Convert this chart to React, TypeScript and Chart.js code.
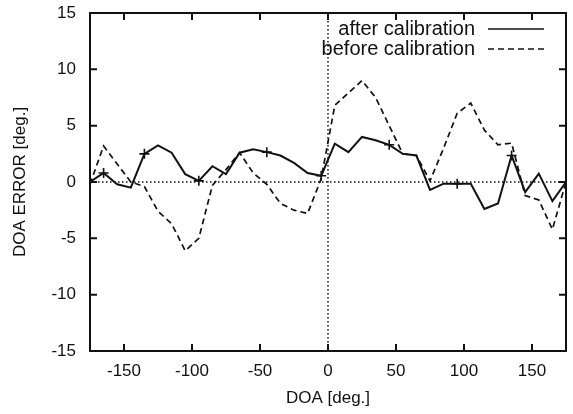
import React, { useEffect, useRef } from "react";
import { Chart, registerables } from "chart.js";

Chart.register(...registerables);

// DOA angles (degrees), 10-degree steps
const doa = [
  -175, -165, -155, -145, -135, -125, -115, -105, -95, -85, -75, -65, -55, -45, -35, -25, -15, -5,
  5, 15, 25, 35, 45, 55, 65, 75, 85, 95, 105, 115, 125, 135, 145, 155, 165, 175,
];

// DOA error after calibration (deg.)
const afterCal = [
  0.0, 0.8, -0.2, -0.5, 2.5, 3.25, 2.6, 0.7, 0.1, 1.4, 0.7, 2.6, 2.9, 2.65, 2.35, 1.7, 0.8, 0.55,
  3.4, 2.65, 4.0, 3.7, 3.3, 2.5, 2.35, -0.7, -0.15, -0.15, -0.15, -2.4, -1.9, 2.35, -0.9, 0.75, -1.7, 0.0,
];

// DOA error before calibration (deg.)
const beforeCal = [
  -0.2, 3.2, 1.6, 0.0, -0.4, -2.6, -3.7, -6.1, -5.0, -0.3, 1.1, 2.6, 0.8, -0.2, -1.9, -2.5, -2.8, 0.3,
  6.8, 7.9, 9.0, 7.5, 5.0, 2.5, 2.35, 0.1, 3.0, 6.1, 7.0, 4.6, 3.3, 3.45, -1.2, -1.6, -4.2, 0.0,
];

// angles where the "after calibration" curve carries a + marker
const markerDoa = [-165, -135, -95, -45, -5, 45, 95, 135];

const xTicks = [-150, -100, -50, 0, 50, 100, 150];
const yTicks = [-15, -10, -5, 0, 5, 10, 15];

const seriesLabels = ["after calibration", "before calibration"];
const xTitle = "DOA [deg.]";
const yTitle = "DOA ERROR [deg.]";

const INK = "#111";
const FONT_FAMILY = "'Liberation Sans', Arial, Helvetica, sans-serif";

const framePlugin = {
  id: "gnuplotFrame",
  beforeDatasetsDraw(chart: any) {
    const { ctx, chartArea: a, scales } = chart;
    const x0 = scales.x.getPixelForValue(0);
    const y0 = scales.y.getPixelForValue(0);
    ctx.save();
    ctx.strokeStyle = INK;
    ctx.lineWidth = 1.5;
    ctx.setLineDash([1.5, 2.5]);
    ctx.beginPath();
    ctx.moveTo(x0, a.top);
    ctx.lineTo(x0, a.bottom);
    ctx.moveTo(a.left, y0);
    ctx.lineTo(a.right, y0);
    ctx.stroke();
    ctx.restore();
  },
  afterDraw(chart: any) {
    const { ctx, chartArea: a, scales } = chart;
    ctx.save();
    ctx.strokeStyle = INK;
    ctx.lineWidth = 2;
    ctx.setLineDash([]);
    ctx.strokeRect(a.left, a.top, a.right - a.left, a.bottom - a.top);
    const tl = 7;
    ctx.beginPath();
    xTicks.forEach((v) => {
      const px = scales.x.getPixelForValue(v);
      ctx.moveTo(px, a.bottom);
      ctx.lineTo(px, a.bottom - tl);
      ctx.moveTo(px, a.top);
      ctx.lineTo(px, a.top + tl);
    });
    yTicks.forEach((v) => {
      const py = scales.y.getPixelForValue(v);
      ctx.moveTo(a.left, py);
      ctx.lineTo(a.left + tl, py);
      ctx.moveTo(a.right, py);
      ctx.lineTo(a.right - tl, py);
    });
    ctx.stroke();

    // gnuplot-style key, top right inside the plot
    ctx.font = `20px ${FONT_FAMILY}`;
    ctx.fillStyle = INK;
    ctx.textAlign = "right";
    ctx.textBaseline = "middle";
    const textRight = a.right - 91;
    const lineL = a.right - 78;
    const lineR = a.right - 22;
    chart.data.datasets.forEach((ds: any, i: number) => {
      const ky = a.top + 16 + i * 20;
      ctx.fillText(ds.label, textRight, ky);
      ctx.lineWidth = 1.6;
      ctx.setLineDash(ds.borderDash || []);
      ctx.beginPath();
      ctx.moveTo(lineL, ky);
      ctx.lineTo(lineR, ky);
      ctx.stroke();
    });
    ctx.restore();
  },
};

export default function App() {
  const canvasRef = useRef<HTMLCanvasElement | null>(null);

  useEffect(() => {
    if (!canvasRef.current) return;
    const markerRadius = doa.map((d) => (markerDoa.includes(d) ? 5 : 0));
    const chart = new Chart(canvasRef.current, {
      type: "line",
      data: {
        datasets: [
          {
            label: seriesLabels[0],
            data: doa.map((d, i) => ({ x: d, y: afterCal[i] })),
            borderColor: INK,
            backgroundColor: INK,
            borderWidth: 2,
            pointStyle: "cross",
            pointRadius: markerRadius,
            pointBorderWidth: 1.6,
            pointBorderColor: INK,
            tension: 0,
          },
          {
            label: seriesLabels[1],
            data: doa.map((d, i) => ({ x: d, y: beforeCal[i] })),
            borderColor: INK,
            backgroundColor: INK,
            borderWidth: 1.7,
            borderDash: [6, 4],
            pointRadius: 0,
            tension: 0,
          },
        ],
      },
      options: {
        animation: false,
        responsive: true,
        maintainAspectRatio: false,
        layout: { padding: { top: 13, right: 7, left: 0, bottom: 0 } },
        plugins: {
          legend: { display: false },
          tooltip: { enabled: false },
        },
        scales: {
          x: {
            type: "linear",
            min: -175,
            max: 175,
            afterBuildTicks: (s: any) => {
              s.ticks = xTicks.map((v) => ({ value: v }));
            },
            afterFit: (s: any) => {
              s.height = 63;
              s.paddingLeft = 0;
              s.paddingRight = 0;
            },
            grid: { display: false, drawTicks: false },
            border: { display: false },
            ticks: {
              color: INK,
              padding: 10,
              maxRotation: 0,
              font: { family: FONT_FAMILY, size: 17 },
            },
            title: {
              display: true,
              text: xTitle,
              color: INK,
              padding: { top: 0, bottom: 5 },
              font: { family: FONT_FAMILY, size: 17 },
            },
          },
          y: {
            type: "linear",
            min: -15,
            max: 15,
            afterBuildTicks: (s: any) => {
              s.ticks = yTicks.map((v) => ({ value: v }));
            },
            afterFit: (s: any) => {
              s.width = 90;
              s.paddingTop = 0;
              s.paddingBottom = 0;
            },
            grid: { display: false, drawTicks: false },
            border: { display: false },
            ticks: {
              color: INK,
              padding: 14,
              font: { family: FONT_FAMILY, size: 17 },
            },
            title: {
              display: true,
              text: yTitle,
              color: INK,
              padding: { top: 10, bottom: 0 },
              font: { family: FONT_FAMILY, size: 17 },
            },
          },
        },
      },
      plugins: [framePlugin],
    });
    return () => chart.destroy();
  }, []);

  return (
    <div
      style={{
        position: "fixed",
        left: 0,
        top: 0,
        width: 573,
        height: 414,
        background: "#fff",
      }}
    >
      <canvas ref={canvasRef} />
    </div>
  );
}
